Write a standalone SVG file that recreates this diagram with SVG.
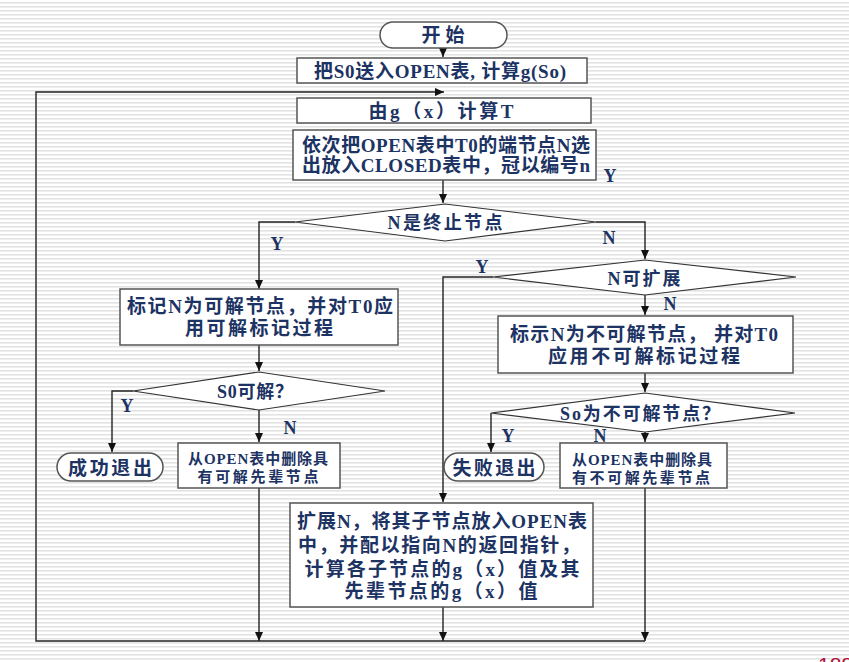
<svg xmlns="http://www.w3.org/2000/svg" width="849" height="662" viewBox="0 0 849 662">
<defs>
<pattern id="stripes" width="8" height="4" patternUnits="userSpaceOnUse">
<rect width="8" height="4" fill="#ffffff"/>
<rect y="2" width="8" height="1.6" fill="#e3e3e3"/>
</pattern>
<marker id="arr" markerWidth="10" markerHeight="10" refX="9" refY="5" orient="auto" markerUnits="userSpaceOnUse">
<path d="M0,1 L9,5 L0,9 Z" fill="#111"/>
</marker>
<style>
.box{fill:#fff;stroke:#555;stroke-width:1.5}
.dia{fill:#fff;stroke:#333;stroke-width:1.2}
.ln{fill:none;stroke:#222;stroke-width:1.4}
.t{font-family:"Liberation Serif","Noto Sans CJK SC",serif;font-weight:bold;fill:#1c3363;text-anchor:middle}
.big{font-size:19px}
.mid{font-size:18px}
.sm{font-size:15px}
.lbl{font-family:"Liberation Serif",serif;font-weight:bold;fill:#1c3363;font-size:18px;text-anchor:middle}
</style>
</defs>
<rect width="849" height="662" fill="url(#stripes)"/>

<g id="connectors">
<path class="ln" d="M443,48 V57" marker-end="url(#arr)"/>
<path class="ln" d="M645,641 H36 V92 H444" marker-end="url(#arr)"/>
<path class="ln" d="M443,180 V203" marker-end="url(#arr)"/>
<path class="ln" d="M295,222 H259 V289" marker-end="url(#arr)"/>
<path class="ln" d="M596,222 H645 V259" marker-end="url(#arr)"/>
<path class="ln" d="M493,277 H443 V502" marker-end="url(#arr)"/>
<path class="ln" d="M645,295 V315" marker-end="url(#arr)"/>
<path class="ln" d="M259,345 V371" marker-end="url(#arr)"/>
<path class="ln" d="M133,391 H112 V452" marker-end="url(#arr)"/>
<path class="ln" d="M259,410 V442" marker-end="url(#arr)"/>
<path class="ln" d="M259,488 V641" marker-end="url(#arr)"/>
<path class="ln" d="M645,373 V392" marker-end="url(#arr)"/>
<path class="ln" d="M491,413 V452" marker-end="url(#arr)"/>
<path class="ln" d="M645,432 V442" marker-end="url(#arr)"/>
<path class="ln" d="M645,488 V641" marker-end="url(#arr)"/>
<path class="ln" d="M443,607 V641" marker-end="url(#arr)"/>
</g>

<g id="start">
<rect class="box" x="380" y="22" width="127" height="26" rx="13" ry="13"/>
<text class="t big" x="443" y="42" textLength="43">开始</text>
</g>

<g id="box1">
<rect class="box" x="297" y="58" width="290" height="25"/>
<text class="t big" x="440" y="78" textLength="252">把S0送入OPEN表, 计算g(So)</text>
</g>

<g id="box2">
<rect class="box" x="297" y="98" width="294" height="25"/>
<text class="t big" x="441" y="118" textLength="145">由g（x）计算T</text>
</g>

<g id="box3">
<rect class="box" x="293" y="130" width="303" height="50"/>
<text class="t big" x="446" y="152" textLength="288">依次把OPEN表中T0的端节点N选</text>
<text class="t big" x="446" y="172" textLength="288">出放入CLOSED表中，冠以编号n</text>
</g>

<g id="dec1">
<polygon class="dia" points="295,222 445,204 596,222 445,241"/>
<text class="t mid" x="445" y="229" textLength="115">N是终止节点</text>
</g>

<g id="dec2">
<polygon class="dia" points="493,277 645,260 796,277 645,295"/>
<text class="t mid" x="644" y="285" textLength="73">N可扩展</text>
</g>

<g id="box4">
<rect class="box" x="120" y="289" width="278" height="56"/>
<text class="t big" x="260" y="313" textLength="266">标记N为可解节点，并对T0应</text>
<text class="t big" x="259" y="335" textLength="148">用可解标记过程</text>
</g>

<g id="dec3">
<polygon class="dia" points="133,391 259,372 385,391 259,410"/>
<text class="t mid" x="255" y="398" textLength="76">S0可解？</text>
</g>

<g id="success">
<rect class="box" x="57" y="453" width="106" height="28" rx="14" ry="14"/>
<text class="t big" x="110" y="475" textLength="84">成功退出</text>
</g>

<g id="box5">
<rect class="box" x="178" y="443" width="162" height="45"/>
<text class="t sm" x="258" y="464" textLength="140">从OPEN表中删除具</text>
<text class="t sm" x="258" y="482" textLength="121">有可解先辈节点</text>
</g>

<g id="box6">
<rect class="box" x="498" y="316" width="295" height="57"/>
<text class="t big" x="644" y="341" textLength="268">标示N为不可解节点， 并对T0</text>
<text class="t big" x="644" y="363" textLength="192">应用不可解标记过程</text>
</g>

<g id="dec4">
<polygon class="dia" points="491,413 645,393 795,413 645,432"/>
<text class="t mid" x="640" y="420" textLength="160">So为不可解节点？</text>
</g>

<g id="fail">
<rect class="box" x="444" y="453" width="100" height="28" rx="14" ry="14"/>
<text class="t big" x="494" y="475" textLength="83">失败退出</text>
</g>

<g id="box7">
<rect class="box" x="560" y="443" width="167" height="45"/>
<text class="t sm" x="642" y="465" textLength="140">从OPEN表中删除具</text>
<text class="t sm" x="641" y="483" textLength="138">有不可解先辈节点</text>
</g>

<g id="box8">
<rect class="box" x="290" y="503" width="303" height="104"/>
<text class="t big" x="442" y="528" textLength="290">扩展N，将其子节点放入OPEN表</text>
<text class="t big" x="439" y="552" textLength="282">中，并配以指向N的返回指针，</text>
<text class="t big" x="442" y="576" textLength="275">计算各子节点的g（x）值及其</text>
<text class="t big" x="441" y="598" textLength="193">先辈节点的g（x）值</text>
</g>

<g id="labels">
<text class="lbl" x="610" y="182">Y</text>
<text class="lbl" x="277" y="250">Y</text>
<text class="lbl" x="609" y="244">N</text>
<text class="lbl" x="482" y="273">Y</text>
<text class="lbl" x="670" y="310">N</text>
<text class="lbl" x="127" y="412">Y</text>
<text class="lbl" x="290" y="434">N</text>
<text class="lbl" x="508" y="442">Y</text>
<text class="lbl" x="600" y="442">N</text>
</g>

<text x="818" y="672" font-family="Liberation Sans, sans-serif" font-size="21" fill="#b0103a">188</text>
</svg>
